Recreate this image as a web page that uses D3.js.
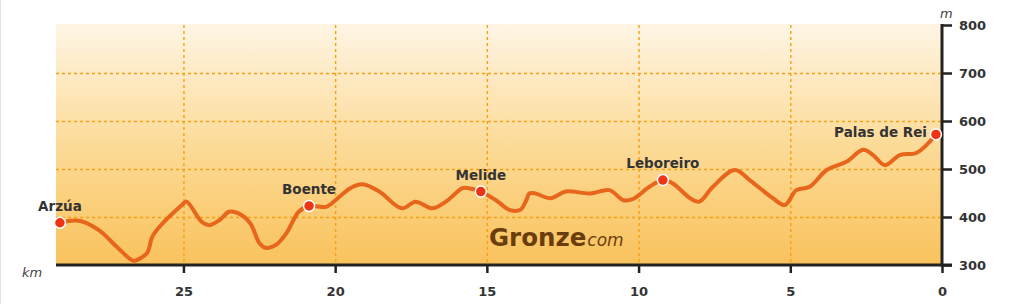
<!DOCTYPE html>
<html><head><meta charset="utf-8">
<script src="https://cdn.jsdelivr.net/npm/d3@7"></script>
<style>body{margin:0;background:#fff}svg{display:block}</style>
</head><body>
<svg id="c" width="1024" height="304"></svg>
<script>
const profileKm = [29.07,28.45,27.8,27.2,26.7,26.6,26.2,26.0,25.05,24.9,24.4,24.15,23.8,23.5,23.2,22.8,22.5,22.3,21.95,21.6,21.2,20.86,20.3,20.1,19.5,19.1,18.55,17.8,17.35,16.8,16.35,15.8,15.6,15.2,14.7,14.26,13.9,13.7,13.6,13.4,12.9,12.4,11.6,10.96,10.5,10.2,9.64,9.2,8.87,8.3,8.0,7.55,6.83,6.34,5.57,5.18,4.8,4.36,3.8,3.15,2.6,2.27,1.88,1.39,0.83,0.2];
const profileM = [388,392,373,338,310,309,325,362,425,432,390,383,394,411,408,387,346,336,342,367,411,423,421,429,460,468,453,418,432,418,432,460,460,453,435,415,415,435,449,449,439,453,449,456,435,437,463,477,470,439,432,463,498,477,439,425,456,463,498,515,540,529,508,529,534,572];
const townNames = ["Arzúa","Boente","Melide","Leboreiro","Palas de Rei"];
const townKm = [29.07,20.86,15.2,9.2,0.2];
const townM = [388,423,453,477,572];
const xTicks = [25,20,15,10,5,0];
const yTicks = [300,400,500,600,700,800];

const svg = d3.select("#c");
const x = d3.scaleLinear().domain([29.2,0]).range([56,942]);
const y = d3.scaleLinear().domain([300,800]).range([265,25]);

svg.append("line").attr("x1",0.5).attr("x2",0.5).attr("y1",0).attr("y2",304).attr("stroke","#e2e2e2");

const defs = svg.append("defs");
const g = defs.append("linearGradient").attr("id","bg").attr("x1",0).attr("x2",0).attr("y1",0).attr("y2",1);
g.append("stop").attr("offset","0%").attr("stop-color","#fef5e4");
g.append("stop").attr("offset","50%").attr("stop-color","#fcdb98");
g.append("stop").attr("offset","100%").attr("stop-color","#f9c25c");
svg.append("rect").attr("x",x(29.2)).attr("y",y(800)-1).attr("width",x(0)-x(29.2)).attr("height",y(300)-y(800)+1).attr("fill","url(#bg)");

// grid
svg.append("g").selectAll("line").data(yTicks.filter(v=>v>300&&v<800)).join("line")
  .attr("x1",x(29.2)).attr("x2",x(0)).attr("y1",d=>y(d)+0.5).attr("y2",d=>y(d)+0.5)
  .attr("stroke","#f7a012").attr("stroke-dasharray","3,3").attr("stroke-width",1.4);
svg.append("g").selectAll("line").data(xTicks.filter(v=>v>0)).join("line")
  .attr("x1",d=>x(d)+0.5).attr("x2",d=>x(d)+0.5).attr("y1",y(800)).attr("y2",y(300))
  .attr("stroke","#f7a012").attr("stroke-dasharray","3,3").attr("stroke-width",1.4);

// watermark
const wm = svg.append("text").attr("x",489).attr("y",246).attr("fill","#6b3d0c").attr("font-family","DejaVu Sans");
wm.append("tspan").attr("font-weight","bold").attr("font-size",24.5).text("Gronze");
wm.append("tspan").attr("font-style","italic").attr("font-size",17).attr("dx",1).text("com");

// axes
const xa = svg.append("g").attr("transform",`translate(0,${y(300)})`)
  .call(d3.axisBottom(x).tickValues(xTicks).tickSize(8).tickPadding(14).tickFormat(d3.format("d")));
xa.select(".domain").remove();
xa.selectAll(".tick line").attr("stroke","#222").attr("stroke-width",2.5);
xa.selectAll(".tick text").attr("font-family","DejaVu Sans").attr("font-weight","bold").attr("font-size",13).attr("fill","#333");
svg.append("line").attr("x1",x(29.2)).attr("x2",x(0)+10).attr("y1",y(300)).attr("y2",y(300)).attr("stroke","#222").attr("stroke-width",3);

const ya = svg.append("g").attr("transform",`translate(${x(0)},0)`)
  .call(d3.axisRight(y).tickValues(yTicks).tickSize(10).tickPadding(7));
ya.select(".domain").remove();
ya.selectAll(".tick line").attr("stroke","#222").attr("stroke-width",2.5);
ya.selectAll(".tick text").attr("font-family","DejaVu Sans").attr("font-weight","bold").attr("font-size",13).attr("fill","#333");
svg.append("line").attr("x1",x(0)).attr("x2",x(0)).attr("y1",y(800)-1).attr("y2",y(300)+1.5).attr("stroke","#222").attr("stroke-width",3);

svg.append("text").attr("x",22).attr("y",277).attr("font-family","DejaVu Sans").attr("font-style","italic").attr("font-size",13).attr("fill","#444").text("km");
svg.append("text").attr("x",940).attr("y",18).attr("font-family","DejaVu Sans").attr("font-style","italic").attr("font-size",13).attr("fill","#444").text("m");

// profile
const pts = profileKm.map((k,i)=>[k,profileM[i]]);
svg.append("path").datum(pts)
  .attr("d", d3.line().x(d=>x(d[0])).y(d=>y(d[1])).curve(d3.curveCatmullRom.alpha(0.5)))
  .attr("fill","none").attr("stroke","#e8661c").attr("stroke-width",4).attr("stroke-linecap","round").attr("stroke-linejoin","round");

// towns
const towns = townNames.map((n,i)=>({n,k:townKm[i],m:townM[i]}));
svg.append("g").selectAll("circle").data(towns).join("circle")
  .attr("cx",d=>x(d.k)).attr("cy",d=>y(d.m)).attr("r",5.5)
  .attr("fill","#ee3414").attr("stroke","#fff").attr("stroke-width",1.5);
svg.append("g").selectAll("text").data(towns).join("text")
  .attr("x",(d,i)=> i===towns.length-1 ? x(d.k)-9 : x(d.k))
  .attr("y",(d,i)=> i===towns.length-1 ? y(d.m)+3 : y(d.m)-12)
  .attr("text-anchor",(d,i)=> i===towns.length-1 ? "end" : "middle")
  .attr("font-family","DejaVu Sans").attr("font-weight","bold").attr("font-size",13.5).attr("fill","#333")
  .text(d=>d.n);
</script>
</body></html>
